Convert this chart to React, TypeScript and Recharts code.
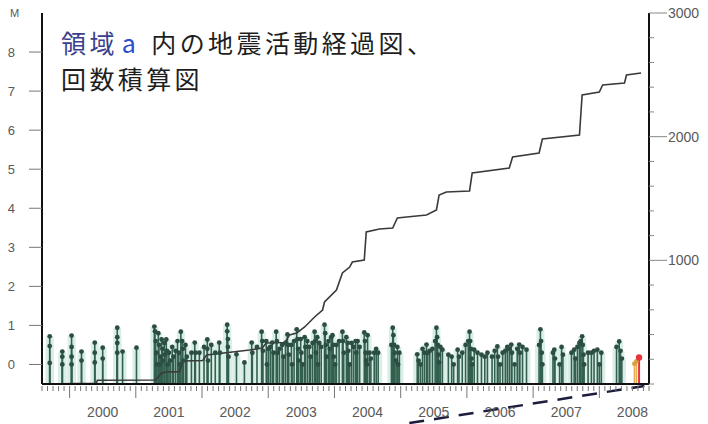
import React from 'react';
import { ComposedChart, Scatter, Line, XAxis, YAxis, ErrorBar, ReferenceLine } from 'recharts';

// ---- axes ----
const yearLabels = [2000, 2001, 2002, 2003, 2004, 2005, 2006, 2007, 2008];
const timeDomain: [number, number] = [1999 + 7 / 12, 2008 + 9 / 12];
const magTicks = [0, 1, 2, 3, 4, 5, 6, 7, 8];
const magDomain: [number, number] = [-0.5, 9];
const countTicks = [0, 200, 400, 600, 800, 1000, 1200, 1400, 1600, 1800, 2000, 2200, 2400, 2600, 2800, 3000];
const countLabels = [1000, 2000, 3000];
const countDomain: [number, number] = [0, 3000];

// ---- cumulative number of events ----
const cumTimes = [1999.58, 2000.40, 2000.42, 2001.30, 2001.39, 2001.46, 2001.66, 2001.71, 2002.01, 2002.07, 2002.72, 2002.91, 2002.97, 2003.25, 2003.32, 2003.43, 2003.55, 2003.70, 2003.82, 2003.85, 2004.03, 2004.12, 2004.23, 2004.27, 2004.45, 2004.48, 2004.68, 2004.88, 2004.95, 2005.09, 2005.39, 2005.54, 2005.58, 2005.69, 2006.04, 2006.08, 2006.64, 2006.69, 2007.09, 2007.14, 2007.70, 2007.74, 2008.00, 2008.05, 2008.38, 2008.41, 2008.63];
const cumCounts = [0, 5, 30, 32, 89, 97, 100, 186, 190, 234, 275, 291, 332, 335, 396, 412, 461, 542, 598, 663, 760, 898, 946, 986, 1003, 1229, 1253, 1261, 1342, 1350, 1367, 1407, 1528, 1553, 1561, 1706, 1747, 1836, 1868, 1981, 2013, 2337, 2361, 2418, 2434, 2499, 2515];

// ---- events [time, magnitude] ----
const events1999to2002: [number, number][] = [
  [1999.70, 0.72], [1999.70, 0.47], [1999.70, 0.04],
  [1999.89, 0.33], [1999.89, 0.2], [1999.89, 0.0],
  [2000.03, 0.74], [2000.03, 0.45], [2000.03, 0.2], [2000.03, 0.0],
  [2000.18, 0.33], [2000.18, 0.1],
  [2000.38, 0.56], [2000.38, 0.3], [2000.38, 0.05],
  [2000.50, 0.43], [2000.50, 0.15],
  [2000.72, 0.94], [2000.72, 0.7], [2000.72, 0.55], [2000.72, 0.3],
  [2000.80, 0.33], [2001.01, 0.43],
  [2001.28, 0.97], [2001.29, 0.85], [2001.30, 0.6], [2001.31, 0.3], [2001.32, 0.0],
  [2001.34, 0.8], [2001.35, 0.5], [2001.37, 0.2], [2001.36, 0.0],
  [2001.39, 0.64], [2001.40, 0.4], [2001.41, 0.1],
  [2001.43, 0.55], [2001.44, 0.25], [2001.46, 0.64], [2001.47, 0.35], [2001.48, 0.0],
  [2001.50, 0.3], [2001.52, 0.1], [2001.55, 0.45], [2001.57, 0.2],
  [2001.60, 0.35], [2001.63, 0.6], [2001.65, 0.3], [2001.66, 0.0],
  [2001.68, 0.84], [2001.70, 0.6], [2001.71, 0.4], [2001.72, 0.1],
  [2001.75, 0.5], [2001.77, 0.2], [2001.84, 0.3], [2001.89, 0.56], [2001.90, 0.3], [2001.96, 0.3],
  [2002.03, 0.45], [2002.08, 0.64], [2002.08, 0.4], [2002.09, 0.1], [2002.14, 0.5],
  [2002.20, 0.3], [2002.26, 0.56], [2002.27, 0.3],
  [2002.38, 1.02], [2002.38, 0.85], [2002.39, 0.65], [2002.39, 0.45], [2002.40, 0.2],
  [2002.52, 0.26], [2002.64, 0.05], [2002.75, 0.56], [2002.76, 0.3], [2002.83, 0.45],
  [2002.90, 0.84], [2002.91, 0.6], [2002.92, 0.35], [2002.97, 0.6], [2002.98, 0.0],
];
const events2003to2005: [number, number][] = [
  [2003.00, 0.4], [2003.03, 0.45], [2003.06, 0.56], [2003.08, 0.3],
  [2003.12, 0.84], [2003.13, 0.6], [2003.14, 0.3], [2003.17, 0.4], [2003.21, 0.5], [2003.23, 0.2],
  [2003.26, 0.55], [2003.29, 0.77], [2003.30, 0.5], [2003.31, 0.25], [2003.35, 0.5], [2003.36, 0.0],
  [2003.39, 0.6], [2003.43, 0.9], [2003.44, 0.65], [2003.45, 0.4], [2003.46, 0.1],
  [2003.49, 0.65], [2003.50, 0.3], [2003.52, 0.0], [2003.55, 0.7], [2003.56, 0.45],
  [2003.59, 0.6], [2003.62, 0.45], [2003.64, 0.2], [2003.67, 0.55],
  [2003.70, 0.84], [2003.71, 0.6], [2003.72, 0.3], [2003.74, 0.7], [2003.75, 0.0],
  [2003.77, 0.55], [2003.80, 0.45], [2003.85, 1.02], [2003.86, 0.8], [2003.87, 0.5], [2003.88, 0.2],
  [2003.91, 0.6], [2003.93, 0.4], [2003.95, 0.7], [2003.97, 0.75], [2003.98, 0.5], [2003.99, 0.2],
  [2004.01, 0.0], [2004.03, 0.5], [2004.07, 0.6], [2004.12, 0.84], [2004.13, 0.6], [2004.14, 0.3],
  [2004.18, 0.7], [2004.20, 0.55], [2004.21, 0.35], [2004.23, 0.0], [2004.26, 0.55],
  [2004.29, 0.45], [2004.32, 0.6], [2004.33, 0.3], [2004.35, 0.6],
  [2004.38, 0.45], [2004.45, 0.82], [2004.46, 0.6], [2004.47, 0.3], [2004.48, 0.1], [2004.49, 0.0],
  [2004.50, 0.75], [2004.53, 0.3], [2004.55, 0.15], [2004.60, 0.3], [2004.63, 0.4], [2004.66, 0.3],
  [2004.86, 0.5], [2004.88, 0.94], [2004.89, 0.75], [2004.90, 0.5], [2004.91, 0.3], [2004.93, 0.1],
  [2004.95, 0.45], [2004.96, 0.0], [2004.98, 0.3], [2005.25, 0.26], [2005.27, 0.1], [2005.30, 0.0],
  [2005.33, 0.4], [2005.36, 0.3], [2005.39, 0.51], [2005.41, 0.3], [2005.44, 0.35], [2005.48, 0.4],
  [2005.52, 0.6], [2005.54, 0.94], [2005.55, 0.7], [2005.56, 0.5], [2005.57, 0.25], [2005.58, 0.05],
  [2005.60, 0.45], [2005.63, 0.38], [2005.72, 0.25], [2005.77, 0.2], [2005.80, 0.0],
  [2005.86, 0.38], [2005.88, 0.2], [2005.93, 0.3], [2005.98, 0.5],
];
const events2006to2008: [number, number][] = [
  [2006.02, 0.6], [2006.04, 0.84], [2006.05, 0.6], [2006.06, 0.4], [2006.07, 0.15], [2006.08, 0.0],
  [2006.11, 0.38], [2006.16, 0.3], [2006.22, 0.25], [2006.27, 0.2], [2006.31, 0.3], [2006.38, 0.2],
  [2006.42, 0.35], [2006.46, 0.46], [2006.47, 0.2], [2006.50, 0.0],
  [2006.54, 0.3], [2006.58, 0.35], [2006.61, 0.45], [2006.64, 0.4], [2006.67, 0.51], [2006.68, 0.3],
  [2006.72, 0.0], [2006.76, 0.4], [2006.79, 0.51], [2006.80, 0.3], [2006.84, 0.45], [2006.90, 0.38],
  [2007.09, 0.5], [2007.11, 0.9], [2007.12, 0.6], [2007.13, 0.3], [2007.14, 0.0],
  [2007.30, 0.3], [2007.32, 0.38], [2007.33, 0.15], [2007.40, 0.0],
  [2007.43, 0.45], [2007.45, 0.25], [2007.58, 0.3], [2007.62, 0.38], [2007.64, 0.15], [2007.67, 0.45],
  [2007.70, 0.55], [2007.72, 0.6], [2007.74, 0.72], [2007.75, 0.5], [2007.76, 0.25], [2007.77, 0.0],
  [2007.83, 0.3], [2007.88, 0.3], [2007.92, 0.35], [2007.97, 0.38], [2008.00, 0.0],
  [2008.03, 0.3], [2008.26, 0.45], [2008.30, 0.59], [2008.32, 0.35], [2008.34, 0.15],
];
const recentEvents: [number, number][] = [[2008.53, 0.02], [2008.56, 0.08]];
const latestEvents: [number, number][] = [[2008.60, 0.18]];

// ---- build series ----
const toPoints = (list: [number, number][]) =>
  list.map(([t, m]) => ({ t, m, stem: [m - magDomain[0], 0] }));
const mainEvents = toPoints([...events1999to2002, ...events2003to2005, ...events2006to2008]);
const recentPoints = toPoints(recentEvents);
const latestPoints = toPoints(latestEvents);
const cumData = cumTimes.map((t, i) => ({ t, c: cumCounts[i] }));

const monthTicks: number[] = [];
for (let y = 1999; y <= 2008; y++) {
  for (let k = 0; k < 12; k++) {
    const v = y + k / 12;
    if (v >= timeDomain[0] - 1e-6 && v <= timeDomain[1] + 1e-6) monthTicks.push(v);
  }
}

const GRAY = '#5a5a5a';
const FONT = '"Liberation Sans", Arial, sans-serif';

const XTick = (props: any) => {
  const { x, y, payload } = props;
  const v = payload.value;
  const k = ((Math.round(v * 12) % 12) + 12) % 12;
  const year = Math.floor(v + 1e-6);
  return (
    <g>
      <line x1={x} x2={x} y1={y + 2} y2={y + (k === 0 ? 14 : 7)} stroke="#777" strokeWidth={1} />
      {k === 6 && yearLabels.includes(year) && (
        <text x={x} y={y + 33} textAnchor="middle" fontSize={14} fill={GRAY} fontFamily={FONT}>
          {year}
        </text>
      )}
    </g>
  );
};

const LeftTick = (props: any) => {
  const { x, y, payload } = props;
  return (
    <g>
      <line x1={x - 13} x2={x} y1={y} y2={y} stroke="#777" strokeWidth={1} />
      <text x={x - 27} y={y + 5} textAnchor="end" fontSize={13} fill={GRAY} fontFamily={FONT}>
        {payload.value}
      </text>
    </g>
  );
};

const RightTick = (props: any) => {
  const { x, y, payload } = props;
  const v = payload.value;
  const major = countLabels.includes(v);
  return (
    <g>
      <line x1={x} x2={x + (major ? 18 : 5)} y1={y} y2={y} stroke="#888" strokeWidth={1} />
      {major && (
        <text x={x + 19} y={y + 5} textAnchor="start" fontSize={14} fill={GRAY} fontFamily={FONT}>
          {v}
        </text>
      )}
    </g>
  );
};

const dot = (color: string, r: number) => (p: any) =>
  <circle cx={p.cx} cy={p.cy} r={r} fill={color} stroke="none" />;

export default function App() {
  return (
    <div style={{ position: 'absolute', left: 0, top: 0, width: 708, height: 424, background: '#fff' }}>
      <ComposedChart width={708} height={424} margin={{ top: 13, right: 0, bottom: 0, left: 0 }}>
        <XAxis
          dataKey="t"
          type="number"
          domain={timeDomain}
          allowDataOverflow
          ticks={monthTicks}
          interval={0}
          height={40}
          tickSize={0}
          tickMargin={0}
          tickLine={false}
          tick={XTick}
          axisLine={{ stroke: '#111', strokeWidth: 2 }}
        />
        <XAxis
          xAxisId="top"
          orientation="top"
          dataKey="t"
          type="number"
          domain={timeDomain}
          height={0}
          tick={false}
          tickLine={false}
          axisLine={{ stroke: '#111', strokeWidth: 2 }}
        />
        <YAxis
          yAxisId="m"
          orientation="left"
          type="number"
          domain={magDomain}
          allowDataOverflow
          ticks={magTicks}
          interval={0}
          width={42}
          tickSize={0}
          tickMargin={0}
          tickLine={false}
          tick={LeftTick}
          axisLine={{ stroke: '#111', strokeWidth: 2 }}
        />
        <YAxis
          yAxisId="n"
          orientation="right"
          type="number"
          domain={countDomain}
          allowDataOverflow
          ticks={countTicks}
          interval={0}
          width={59}
          tickSize={0}
          tickMargin={0}
          tickLine={false}
          tick={RightTick}
          axisLine={{ stroke: '#111', strokeWidth: 2 }}
        />
        <Scatter
          yAxisId="m"
          data={mainEvents}
          dataKey="m"
          isAnimationActive={false}
          shape={dot('#2c4d42', 2.4)}
        >
          <ErrorBar dataKey="stem" direction="y" width={0} stroke="#d8eee6" strokeWidth={8} isAnimationActive={false} />
          <ErrorBar dataKey="stem" direction="y" width={0} stroke="#33604f" strokeWidth={1.6} isAnimationActive={false} />
        </Scatter>
        <Scatter
          yAxisId="m"
          data={recentPoints}
          dataKey="m"
          isAnimationActive={false}
          shape={dot('#d9a040', 2.4)}
        >
          <ErrorBar dataKey="stem" direction="y" width={0} stroke="#e2b050" strokeWidth={1.6} isAnimationActive={false} />
        </Scatter>
        <Scatter
          yAxisId="m"
          data={latestPoints}
          dataKey="m"
          isAnimationActive={false}
          shape={dot('#e8333a', 3.2)}
        >
          <ErrorBar dataKey="stem" direction="y" width={0} stroke="#e8333a" strokeWidth={2} isAnimationActive={false} />
        </Scatter>
        <Line
          yAxisId="n"
          data={cumData}
          dataKey="c"
          type="linear"
          dot={false}
          stroke="#3a3a3a"
          strokeWidth={1.6}
          isAnimationActive={false}
        />
        <ReferenceLine
          yAxisId="m"
          segment={[{ x: 2005.13, y: -1.5 }, { x: 2008.68, y: -0.55 }]}
          stroke="#1c1c3c"
          strokeWidth={2.5}
          strokeDasharray="15 10"
          ifOverflow="visible"
        />
      </ComposedChart>
      <div style={{ position: 'absolute', left: 10, top: 7, fontSize: 11, color: GRAY, fontFamily: FONT }}>M</div>
      <div
        style={{
          position: 'absolute',
          left: 61,
          top: 28,
          fontSize: 25,
          fontWeight: 400,
          lineHeight: '28px',
          letterSpacing: 3.4,
          color: '#1e1e1e',
          fontFamily: '"Noto Sans CJK JP", sans-serif',
          whiteSpace: 'nowrap',
        }}
      >
        <div>
          <span style={{ color: '#3a3f8e' }}>領域</span>
          <span style={{ color: '#2a4fd0', marginLeft: 4, marginRight: 12 }}>a</span>
          <span>内の地震活動経過図、</span>
        </div>
        <div style={{ marginTop: 8 }}>回数積算図</div>
      </div>
    </div>
  );
}
